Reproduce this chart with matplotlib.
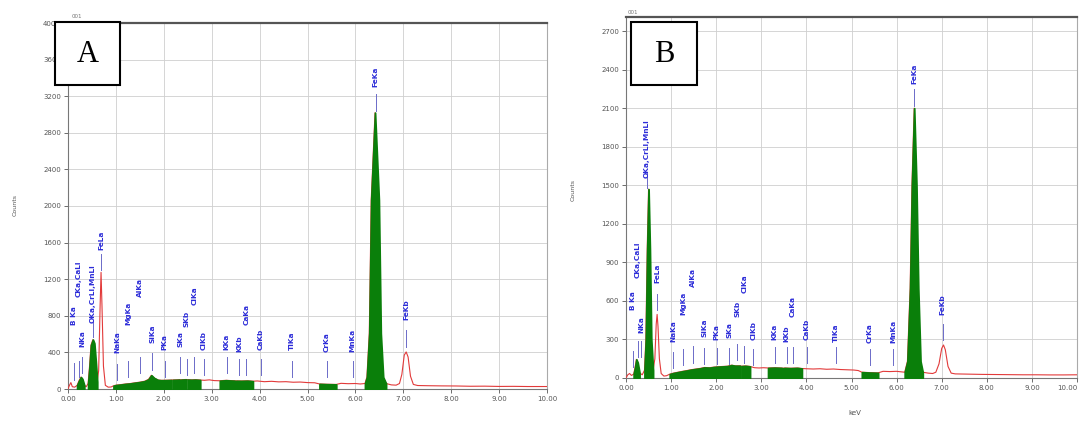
"""
EDS spectra of the two samples (A and B), drawn side by side.
Red trace = full spectrum, green fill = identified peak regions,
blue ticks/labels = element line markers.
"""

import matplotlib.pyplot as plt
import numpy as np
from matplotlib.patches import Rectangle

# ---- sample A spectrum (keV, counts) ----
energy_a = [0.00, 0.03, 0.06, 0.09, 0.14, 0.19, 0.23, 0.27, 0.30, 0.34, 0.38, 0.42,
            0.45, 0.48, 0.52, 0.55, 0.58, 0.61, 0.64, 0.67, 0.69, 0.71, 0.74, 0.78,
            0.84, 0.90, 0.95, 1.00, 1.10, 1.20, 1.30, 1.40, 1.50, 1.60, 1.68, 1.74,
            1.80, 1.88, 1.95, 2.05, 2.16, 2.19, 2.26, 2.33, 2.36, 2.42, 2.47, 2.50,
            2.58, 2.66, 2.76, 2.85, 2.95, 3.05, 3.17, 3.30, 3.40, 3.48, 3.51, 3.62,
            3.75, 3.86, 3.95, 4.10, 4.25, 4.40, 4.55, 4.70, 4.85, 5.00, 5.15, 5.25,
            5.40, 5.60, 5.70, 5.85, 6.00, 6.10, 6.20, 6.24, 6.29, 6.33, 6.41, 6.49,
            6.53, 6.58, 6.64, 6.75, 6.85, 6.92, 6.97, 7.02, 7.06, 7.10, 7.15, 7.21,
            7.30, 7.50, 7.80, 8.10, 8.40, 8.70, 9.00, 9.30, 9.60, 10.00]
counts_a = [0, 40, 70, 25, 20, 40, 90, 130, 110, 40, 25, 60,
            250, 480, 540, 500, 300, 80, 200, 900, 1275, 900, 250, 40,
            20, 22, 35, 42, 48, 55, 60, 68, 75, 85, 105, 150,
            120, 98, 95, 96, 98, 99, 100, 102, 101, 103, 104, 102,
            100, 102, 98, 95, 100, 92, 90, 95, 92, 90, 89, 88,
            90, 85, 88, 80, 84, 78, 80, 74, 76, 70, 68, 55,
            52, 50, 62, 58, 60, 55, 60, 130, 610, 2065, 3020, 2065,
            610, 130, 60, 45, 42, 60, 160, 370, 405, 350, 140, 50,
            38, 36, 34, 33, 30, 31, 28, 29, 27, 27]
roi_a = [(0.19, 0.34), (0.42, 0.61), (0.95, 2.16), (2.19, 2.33), (2.36, 2.47),
         (2.50, 2.76), (3.17, 3.48), (3.51, 3.86), (5.25, 5.60), (6.20, 6.64)]

# element markers for A: energy, label, marker base, label base (counts)
mark_e_a = [0.12, 0.22, 0.30, 0.52, 0.69, 1.03, 1.26, 1.50, 1.76, 2.02, 2.34, 2.48,
            2.64, 2.83, 3.31, 3.58, 3.72, 4.03, 4.67, 5.40, 5.94, 6.42, 7.06]
mark_txt_a = ["B Ka", "CKa,CaLl", "NKa", "OKa,CrLl,MnLl", "FeLa", "NaKa", "MgKa",
              "AlKa", "SiKa", "PKa", "SKa", "SKb", "ClKa", "ClKb", "KKa", "KKb",
              "CaKa", "CaKb", "TiKa", "CrKa", "MnKa", "FeKa", "FeKb"]
mark_lo_a = [100, 130, 175, 570, 1300, 98, 130, 175, 208, 130, 175, 150,
             175, 150, 175, 150, 150, 150, 130, 130, 130, 3040, 460]
label_lo_a = [700, 1005, 460, 720, 1520, 393, 700, 1005, 503, 426, 459, 678,
              918, 426, 426, 404, 700, 426, 426, 404, 404, 3300, 754]

# ---- sample B spectrum (keV, counts) ----
energy_b = [0.00, 0.04, 0.08, 0.12, 0.17, 0.20, 0.23, 0.26, 0.30, 0.36, 0.41, 0.44,
            0.47, 0.50, 0.53, 0.56, 0.60, 0.64, 0.67, 0.69, 0.71, 0.74, 0.78, 0.84,
            0.90, 0.97, 1.05, 1.15, 1.25, 1.35, 1.45, 1.55, 1.65, 1.74, 1.85, 1.95,
            2.05, 2.15, 2.25, 2.34, 2.42, 2.53, 2.56, 2.65, 2.75, 2.85, 2.95, 3.05,
            3.15, 3.30, 3.45, 3.48, 3.51, 3.65, 3.80, 3.90, 4.00, 4.15, 4.30, 4.45,
            4.60, 4.75, 4.90, 5.05, 5.15, 5.23, 5.40, 5.59, 5.70, 5.85, 6.00, 6.10,
            6.18, 6.24, 6.30, 6.34, 6.39, 6.44, 6.48, 6.53, 6.58, 6.70, 6.80, 6.87,
            6.94, 7.00, 7.04, 7.08, 7.14, 7.21, 7.30, 7.60, 7.90, 8.20, 8.50, 8.80,
            9.10, 9.40, 9.70, 10.00]
counts_b = [0, 25, 35, 20, 30, 80, 145, 120, 40, 25, 60, 300,
            1000, 1470, 1000, 300, 60, 150, 420, 495, 400, 150, 35, 15,
            18, 30, 38, 45, 52, 58, 65, 70, 75, 82, 80, 85,
            88, 90, 92, 100, 95, 95, 92, 94, 90, 80, 78, 80,
            78, 80, 78, 76, 78, 76, 78, 74, 72, 70, 72, 68,
            70, 66, 64, 62, 58, 45, 42, 40, 52, 50, 52, 48,
            45, 130, 700, 1500, 2100, 1500, 700, 130, 45, 38, 35, 45,
            110, 230, 257, 220, 90, 38, 32, 30, 28, 27, 26, 25,
            25, 24, 24, 25]
roi_b = [(0.17, 0.30), (0.41, 0.60), (0.97, 2.53), (2.56, 2.75), (3.15, 3.48),
         (3.51, 3.90), (5.23, 5.59), (6.18, 6.58)]

mark_e_b = [0.15, 0.26, 0.33, 0.46, 0.69, 1.05, 1.27, 1.49, 1.74, 2.01, 2.29, 2.47,
            2.62, 2.82, 3.30, 3.56, 3.70, 4.01, 4.65, 5.40, 5.93, 6.39, 7.02]
mark_txt_b = mark_txt_a
mark_lo_b = [86, 163, 160, 1480, 529, 78, 100, 120, 110, 110, 110, 140,
             120, 100, 117, 117, 117, 117, 117, 101, 101, 2120, 296]
label_lo_b = [529, 778, 350, 1560, 739, 280, 490, 708, 319, 296, 311, 475,
              661, 296, 296, 280, 475, 296, 280, 272, 272, 2290, 490]

y_ticks_a = [0, 400, 800, 1200, 1600, 2000, 2400, 2800, 3200, 3600, 4000]
y_ticks_b = [0, 300, 600, 900, 1200, 1500, 1800, 2100, 2400, 2700]
x_ticks = [0, 1, 2, 3, 4, 5, 6, 7, 8, 9, 10]

RED = "#e23a3a"
GREEN = "#0a7f0a"
BLUE = "#2c2cd8"
MARK = "#6b6bc8"


def draw_spectrum(ax, energy, counts, rois, mark_e, mark_txt, mark_lo, label_lo,
                  yticks, ymax):
    energy = np.asarray(energy)
    counts = np.asarray(counts)
    ax.plot(energy, counts, color=RED, lw=0.8, zorder=3)
    # green peak regions cover the red trace, edge in the same green
    for lo, hi in rois:
        m = (energy >= lo) & (energy <= hi)
        ax.fill_between(energy[m], 0, counts[m], facecolor=GREEN,
                        edgecolor=GREEN, lw=1.3, zorder=4)

    tick_len = 0.045 * ymax
    for e, txt, lo, lab in zip(mark_e, mark_txt, mark_lo, label_lo):
        ax.plot([e, e], [lo, lo + tick_len], color=MARK, lw=0.7, zorder=5)
        ax.text(e, lab, txt, rotation=90, ha="center", va="bottom",
                fontsize=5.3, color=BLUE, fontweight="bold", zorder=6)

    ax.set_xlim(0, 10)
    ax.set_ylim(0, ymax)
    ax.set_xticks(x_ticks)
    ax.set_xticklabels([f"{v:.2f}" for v in x_ticks])
    ax.set_yticks(yticks)
    ax.set_yticklabels([str(v) for v in yticks])
    ax.tick_params(labelsize=5, colors="#555555", length=3, width=0.6, pad=2)
    ax.grid(color="#cfcfcf", lw=0.6)
    ax.set_axisbelow(True)
    for side in ["left", "right", "bottom"]:
        ax.spines[side].set_color("#777777")
        ax.spines[side].set_linewidth(0.8)
    ax.spines["right"].set_color("#aaaaaa")
    ax.spines["top"].set_color("#555555")
    ax.spines["top"].set_linewidth(1.6)


fig = plt.figure(figsize=(10.83, 4.21), dpi=100)

ax_a = fig.add_axes([68 / 1083, 32 / 421, 479 / 1083, 366 / 421])
draw_spectrum(ax_a, energy_a, counts_a, roi_a, mark_e_a, mark_txt_a,
              mark_lo_a, label_lo_a, y_ticks_a, 4000)

ax_b = fig.add_axes([626 / 1083, 43 / 421, 451 / 1083, 361 / 421])
draw_spectrum(ax_b, energy_b, counts_b, roi_b, mark_e_b, mark_txt_b,
              mark_lo_b, label_lo_b, y_ticks_b, 2810)
# last label sits against the figure edge
ax_b.get_xticklabels()[-1].set_horizontalalignment("right")

# axis titles
fig.text(15 / 1083, 1 - 205 / 421, "Counts", rotation=90, ha="center", va="center",
         fontsize=4.5, color="#555555")
fig.text(573 / 1083, 1 - 190 / 421, "Counts", rotation=90, ha="center", va="center",
         fontsize=4.5, color="#555555")
fig.text(855 / 1083, 1 - 413 / 421, "keV", ha="center", va="center",
         fontsize=5, color="#555555")
fig.text(72 / 1083, 1 - 17 / 421, "001", fontsize=4, color="#777777", va="center")
fig.text(628 / 1083, 1 - 12 / 421, "001", fontsize=4, color="#777777", va="center")

# panel letters
for x0, x1, letter in [(55, 120, "A"), (631, 697, "B")]:
    fig.add_artist(Rectangle((x0 / 1083, 1 - 85 / 421), (x1 - x0) / 1083, 63 / 421,
                             transform=fig.transFigure, facecolor="white",
                             edgecolor="black", lw=1.5, zorder=10))
    fig.text((x0 + x1) / 2 / 1083, 1 - 54 / 421, letter, ha="center", va="center",
             fontsize=22, family="Liberation Serif", zorder=11)

fig.savefig("out.png", dpi=100)
plt.close(fig)
